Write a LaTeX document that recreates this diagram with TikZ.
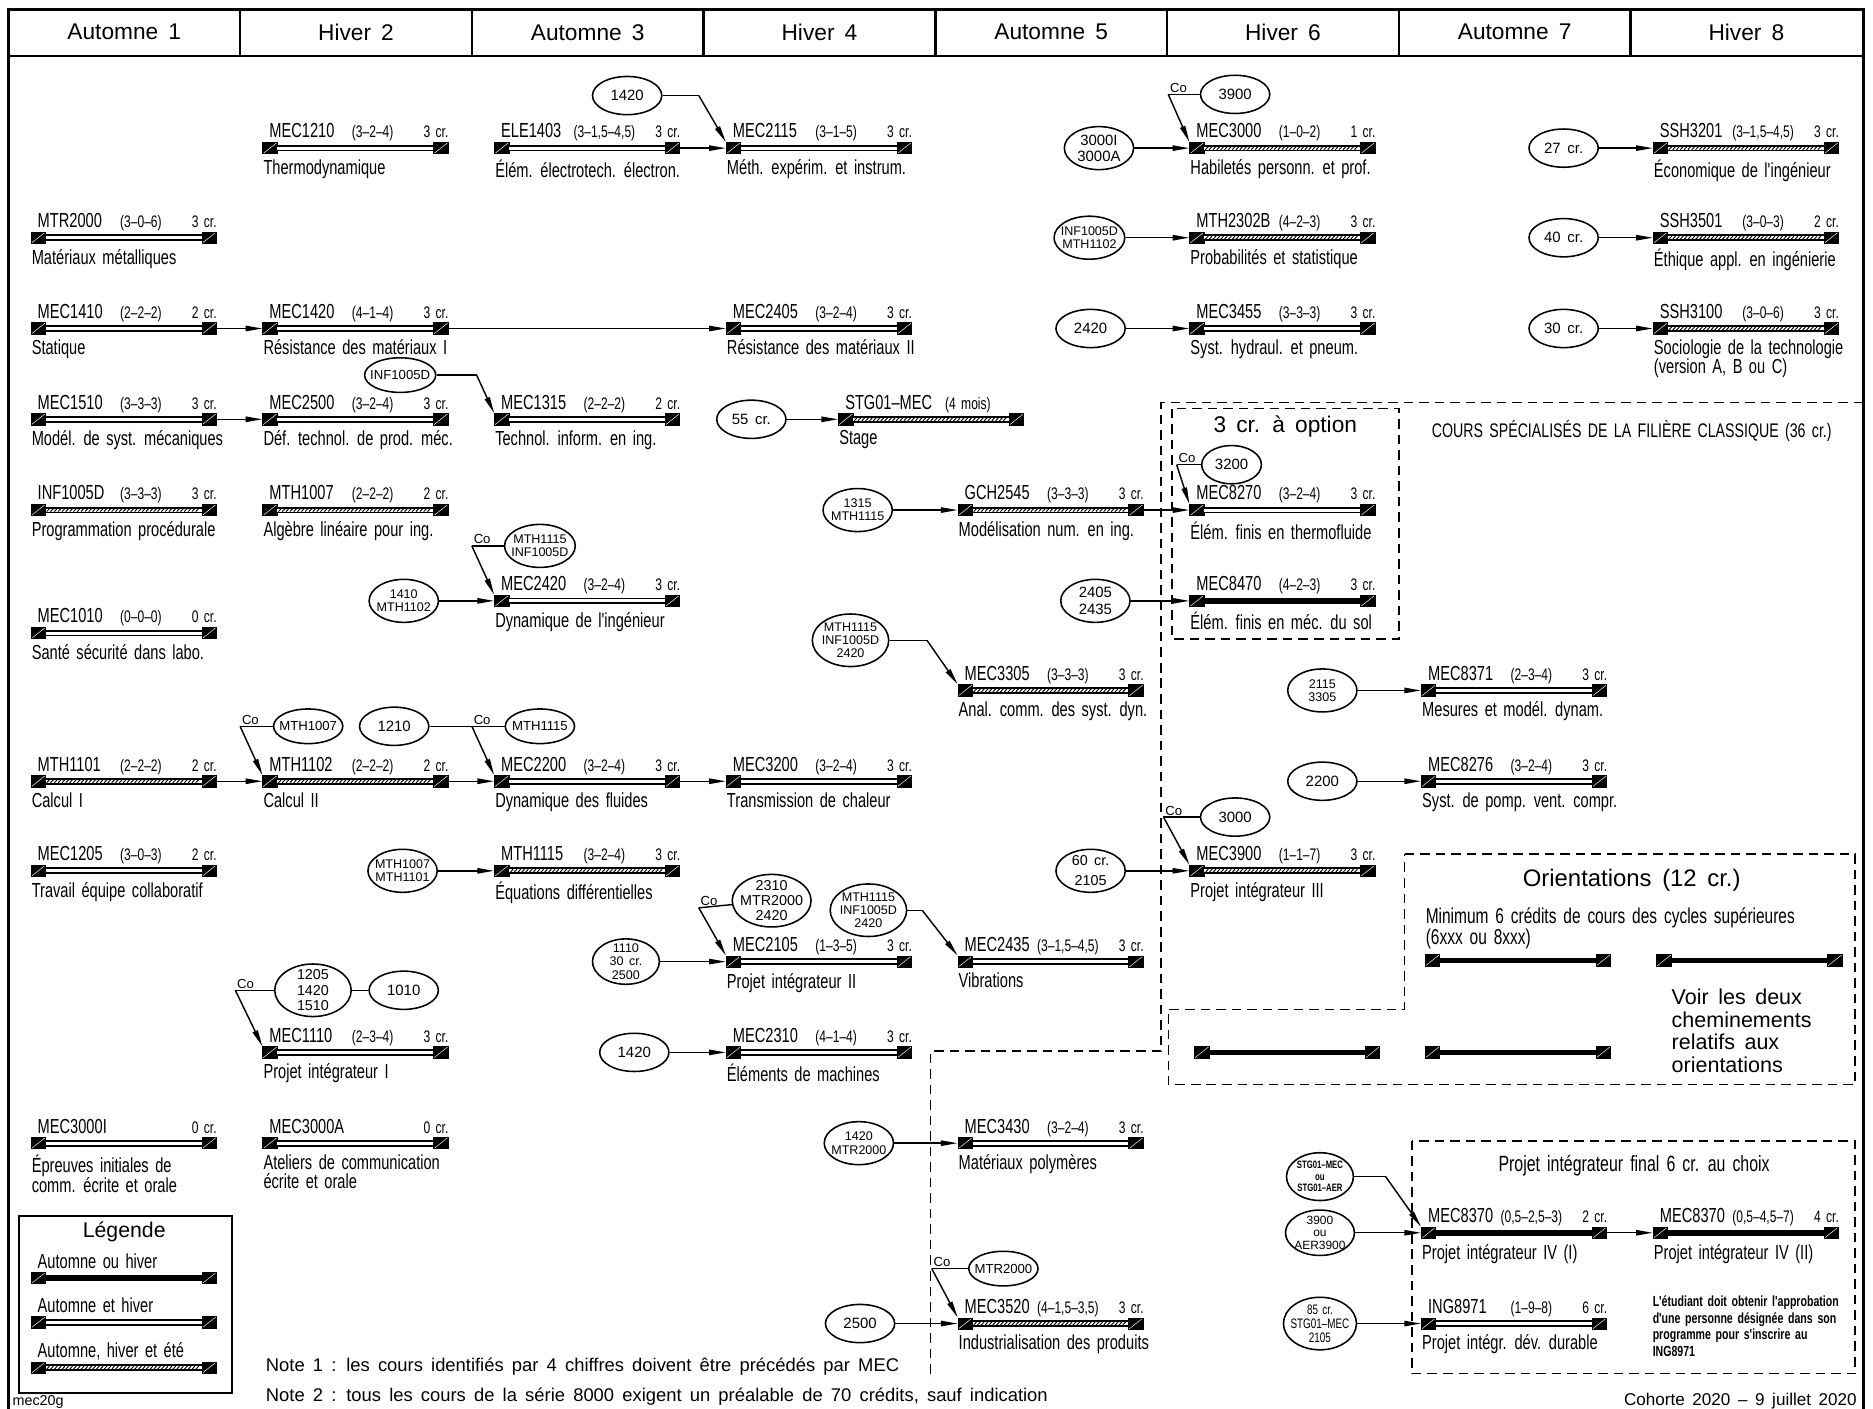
\documentclass[tikz,border=0pt]{standalone}
\usepackage{fontspec}
\setmainfont{Liberation Sans}[WordSpace=1.6]
\newfontfamily\narrowsans{Liberation Sans}[FakeStretch=0.72,WordSpace=1.6]
\usetikzlibrary{arrows.meta,shapes.geometric,decorations.markings}

\newcommand{\codefont}{\narrowsans\fontsize{17}{16}\selectfont}
\newcommand{\smallcodefont}{\narrowsans\fontsize{14}{14}\selectfont}
\newcommand{\prefont}{\fontsize{12.5}{13.5}\selectfont}
\newcommand{\preduofont}{\fontsize{10.5}{11}\selectfont}

% un cours : nom, x, y, barre, sigle, heures, credits, titre
\newcommand{\course}[8]{%
	\node (#1a) at (#2+6,#3)	[sq]	{};
	\node (#1b) at (#2+149,#3)	[sq]	{};
	\draw[#4] (#1a.east) -- (#1b.west);
	\node (#1c) at (#2+5,#3-8.5)	[code]	{#5};
	\node (#1h) at (#2+92,#3-8.5)	[hrs]	{#6};
	\node (#1k) at (#2+156,#3-8.5)	[cred]	{#7};
	\node (#1t) at (#2,#3+9)	[ttl]	{#8};
}

\begin{document}
\begin{tikzpicture}[x=1pt, y=-1pt, line width=1.2pt, >={Triangle[length=14pt, width=4.5pt]},
	sq/.style={draw, fill=black, line width=0.6pt, minimum width=12pt, minimum height=9.5pt, inner sep=0pt,
		path picture={\draw[white, line width=0.4pt] (path picture bounding box.south west) -- (path picture bounding box.north east);}},
	dblbar/.style={line width=1.5pt, double=white, double distance=2.6pt},
	hatchbar/.style={dblbar, postaction={decorate, decoration={markings,
		mark=between positions 2pt and -2pt step 3.2pt with {\draw[line width=0.8pt] (-1.2pt,-1.3pt) -- (1.2pt,1.3pt);}}}},
	thickbar/.style={line width=4.6pt},
	code/.style={anchor=base west, inner sep=0pt, font=\codefont},
	hrs/.style={anchor=base, inner sep=0pt, font=\smallcodefont},
	cred/.style={anchor=base east, inner sep=0pt, font=\smallcodefont},
	ttl/.style={anchor=north west, inner sep=0pt, align=left, font=\codefont},
	pre/.style={ellipse, draw, line width=1.3pt, minimum width=58pt, minimum height=32pt, inner sep=0pt, align=center, font=\prefont},
	pretight/.style={pre, minimum height=29pt, inner xsep=-4pt, font=\fontsize{11}{12}\selectfont},
	pretwo/.style={pre, minimum height=36pt, inner xsep=-3pt, inner ysep=-1pt, font=\preduofont},
	prethree/.style={pre, minimum width=64pt, minimum height=44pt, inner xsep=-3pt, inner ysep=-3pt, font=\preduofont},
	cotxt/.style={anchor=south west, inner sep=1pt, font=\fontsize{11}{11}\selectfont},
	hdr/.style={font=\fontsize{19}{19}\selectfont},
	frame/.style={line width=2pt},
	dashbox/.style={line width=1.2pt, dash pattern=on 8pt off 5pt}]
	\useasboundingbox (0,0) rectangle (1568,1179);

	% cadre et sessions
	\draw[frame] (7,1190) -- (7,8) -- (1560,8) -- (1560,1190);
	\draw[frame] (7,47) -- (1560,47);
	\foreach \i in {1,...,7}
		\draw[frame] (7+194*\i,8) -- (7+194*\i,47);
	\foreach \lbl [count=\i] in {Automne 1, Hiver 2, Automne 3, Hiver 4, Automne 5, Hiver 6, Automne 7, Hiver 8}
		\node (h\i) at (104+194*\i-194,27)	[hdr]	{\lbl};

	% Automne 1
	\course{MTR2000}{26}{199}{dblbar}{MTR2000}{(3–0–6)}{3 cr.}{Matériaux métalliques}
	\course{MEC1410}{26}{275}{dblbar}{MEC1410}{(2–2–2)}{2 cr.}{Statique}
	\course{MEC1510}{26}{351}{dblbar}{MEC1510}{(3–3–3)}{3 cr.}{Modél. de syst. mécaniques}
	\course{INF1005D}{26}{427}{hatchbar}{INF1005D}{(3–3–3)}{3 cr.}{Programmation procédurale}
	\course{MEC1010}{26}{530}{dblbar}{MEC1010}{(0–0–0)}{0 cr.}{Santé sécurité dans labo.}
	\course{MTH1101}{26}{654}{hatchbar}{MTH1101}{(2–2–2)}{2 cr.}{Calcul I}
	\course{MEC1205}{26}{729}{dblbar}{MEC1205}{(3–0–3)}{2 cr.}{Travail équipe collaboratif}
	\course{MEC3000I}{26}{957}{dblbar}{MEC3000I}{}{0 cr.}{Épreuves initiales de\\comm. écrite et orale}

	% Hiver 2
	\course{MEC1210}{220}{124}{dblbar}{MEC1210}{(3–2–4)}{3 cr.}{Thermodynamique}
	\course{MEC1420}{220}{275}{dblbar}{MEC1420}{(4–1–4)}{3 cr.}{Résistance des matériaux I}
	\course{MEC2500}{220}{351}{dblbar}{MEC2500}{(3–2–4)}{3 cr.}{Déf. technol. de prod. méc.}
	\course{MTH1007}{220}{427}{hatchbar}{MTH1007}{(2–2–2)}{2 cr.}{Algèbre linéaire pour ing.}
	\course{MTH1102}{220}{654}{hatchbar}{MTH1102}{(2–2–2)}{2 cr.}{Calcul II}
	\course{MEC1110}{220}{881}{dblbar}{MEC1110}{(2–3–4)}{3 cr.}{Projet intégrateur I}
	\course{MEC3000A}{220}{957}{dblbar}{MEC3000A}{}{0 cr.}{Ateliers de communication\\écrite et orale}

	% Automne 3
	\course{ELE1403}{414}{124}{dblbar}{ELE1403}{(3–1,5–4,5)}{3 cr.}{Élém. électrotech. électron.}
	\course{MEC1315}{414}{351}{dblbar}{MEC1315}{(2–2–2)}{2 cr.}{Technol. inform. en ing.}
	\course{MEC2420}{414}{503}{dblbar}{MEC2420}{(3–2–4)}{3 cr.}{Dynamique de l'ingénieur}
	\course{MEC2200}{414}{654}{dblbar}{MEC2200}{(3–2–4)}{3 cr.}{Dynamique des fluides}
	\course{MTH1115}{414}{729}{hatchbar}{MTH1115}{(3–2–4)}{3 cr.}{Équations différentielles}

	% Hiver 4
	\course{MEC2115}{608}{124}{dblbar}{MEC2115}{(3–1–5)}{3 cr.}{Méth. expérim. et instrum.}
	\course{MEC2405}{608}{275}{dblbar}{MEC2405}{(3–2–4)}{3 cr.}{Résistance des matériaux II}
	\course{STG01}{702}{351}{hatchbar}{STG01–MEC\ \ {\smallcodefont(4 mois)}}{}{}{Stage}
	\course{MEC3200}{608}{654}{dblbar}{MEC3200}{(3–2–4)}{3 cr.}{Transmission de chaleur}
	\course{MEC2105}{608}{805}{dblbar}{MEC2105}{(1–3–5)}{3 cr.}{Projet intégrateur II}
	\course{MEC2310}{608}{881}{dblbar}{MEC2310}{(4–1–4)}{3 cr.}{Éléments de machines}

	% Automne 5
	\course{GCH2545}{802}{427}{hatchbar}{GCH2545}{(3–3–3)}{3 cr.}{Modélisation num. en ing.}
	\course{MEC3305}{802}{578}{hatchbar}{MEC3305}{(3–3–3)}{3 cr.}{Anal. comm. des syst. dyn.}
	\course{MEC2435}{802}{805}{dblbar}{MEC2435}{(3–1,5–4,5)}{3 cr.}{Vibrations}
	\course{MEC3430}{802}{957}{dblbar}{MEC3430}{(3–2–4)}{3 cr.}{Matériaux polymères}
	\course{MEC3520}{802}{1108}{hatchbar}{MEC3520}{(4–1,5–3,5)}{3 cr.}{Industrialisation des produits}

	% Hiver 6
	\course{MEC3000}{996}{124}{hatchbar}{MEC3000}{(1–0–2)}{1 cr.}{Habiletés personn. et prof.}
	\course{MTH2302B}{996}{199}{hatchbar}{MTH2302B}{(4–2–3)}{3 cr.}{Probabilités et statistique}
	\course{MEC3455}{996}{275}{dblbar}{MEC3455}{(3–3–3)}{3 cr.}{Syst. hydraul. et pneum.}
	\course{MEC8270}{996}{427}{dblbar}{MEC8270}{(3–2–4)}{3 cr.}{Élém. finis en thermofluide}
	\course{MEC8470}{996}{503}{thickbar}{MEC8470}{(4–2–3)}{3 cr.}{Élém. finis en méc. du sol}
	\course{MEC3900}{996}{729}{hatchbar}{MEC3900}{(1–1–7)}{3 cr.}{Projet intégrateur III}

	% Automne 7
	\course{MEC8371}{1190}{578}{dblbar}{MEC8371}{(2–3–4)}{3 cr.}{Mesures et modél. dynam.}
	\course{MEC8276}{1190}{654}{dblbar}{MEC8276}{(3–2–4)}{3 cr.}{Syst. de pomp. vent. compr.}
	\course{MEC8370I}{1190}{1032}{thickbar}{MEC8370}{(0,5–2,5–3)}{2 cr.}{Projet intégrateur IV (I)}
	\course{ING8971}{1190}{1108}{dblbar}{ING8971}{(1–9–8)}{6 cr.}{Projet intégr. dév. durable}

	% Hiver 8
	\course{SSH3201}{1384}{124}{hatchbar}{SSH3201}{(3–1,5–4,5)}{3 cr.}{Économique de l'ingénieur}
	\course{SSH3501}{1384}{199}{hatchbar}{SSH3501}{(3–0–3)}{2 cr.}{Éthique appl. en ingénierie}
	\course{SSH3100}{1384}{275}{hatchbar}{SSH3100}{(3–0–6)}{3 cr.}{Sociologie de la technologie\\(version A, B ou C)}
	\course{MEC8370II}{1384}{1032}{thickbar}{MEC8370}{(0,5–4,5–7)}{4 cr.}{Projet intégrateur IV (II)}

	% suites de cours
	\draw[->] (MEC1410b) -- (MEC1420a);
	\draw[->] (MEC1420b) -- (MEC2405a);
	\draw[->] (MEC1510b) -- (MEC2500a);
	\draw[->] (ELE1403b) -- (MEC2115a);
	\draw[->] (MTH1101b) -- (MTH1102a);
	\draw[->] (MTH1102b) -- (MEC2200a);
	\draw[->] (MEC2200b) -- (MEC3200a);
	\draw[->] (GCH2545b) -- (MEC8270a);
	\draw[->] (MEC8370Ib) -- (MEC8370IIa);

	% prealables
	\node (p1420a) at (525,80)	[pre]	{1420};
	\coordinate (k2115) at (585,80);
	\draw (p1420a) -- (k2115);
	\draw[->] (k2115) -- (MEC2115a.north west);

	\node (p3000IA) at (920,124)	[pretwo, font=\prefont]	{3000I\\3000A};
	\draw[->] (p3000IA) -- (MEC3000a);
	\coordinate (co3000) at (978,79);
	\node (co3000t) at (co3000)	[cotxt]	{Co};
	\node (p3900) at (1034,79)	[pre]	{3900};
	\draw (p3900) -- (co3000);
	\draw[->] (co3000) -- (MEC3000a.north west);

	\node (p2302) at (912,199)	[pretwo]	{INF1005D\\MTH1102};
	\draw[->] (p2302) -- (MTH2302Ba);
	\node (p2420a) at (913,275)	[pre]	{2420};
	\draw[->] (p2420a) -- (MEC3455a);

	\node (p27) at (1309,124)	[pre]	{27 cr.};
	\draw[->] (p27) -- (SSH3201a);
	\node (p40) at (1309,199)	[pre]	{40 cr.};
	\draw[->] (p40) -- (SSH3501a);
	\node (p30) at (1309,275)	[pre]	{30 cr.};
	\draw[->] (p30) -- (SSH3100a);

	\node (pINF) at (335,314)	[pretight]	{INF1005D};
	\coordinate (k1315) at (399,314);
	\draw (pINF) -- (k1315);
	\draw[->] (k1315) -- (MEC1315a.north west);

	\node (p55) at (629,351)	[pre]	{55 cr.};
	\draw[->] (p55) -- (STG01a);

	\node (p1315) at (718,427)	[pretwo]	{1315\\MTH1115};
	\draw[->] (p1315) -- (GCH2545a);

	\coordinate (co2420) at (395,457);
	\node (co2420t) at (co2420)	[cotxt]	{Co};
	\node (pMTH1115b) at (452,457)	[pretwo]	{MTH1115\\INF1005D};
	\draw (pMTH1115b) -- (co2420);
	\draw[->] (co2420) -- (MEC2420a.north west);
	\node (p1410) at (338,503)	[pretwo]	{1410\\MTH1102};
	\draw[->] (p1410) -- (MEC2420a);

	\coordinate (co8270) at (985,389);
	\node (co8270t) at (co8270)	[cotxt]	{Co};
	\node (p3200) at (1031,389)	[pre, minimum width=50pt]	{3200};
	\draw (p3200) -- (co8270);
	\draw[->] (co8270) -- (MEC8270a.north west);
	\node (p2405) at (917,503)	[pretwo, font=\prefont]	{2405\\2435};
	\draw[->] (p2405) -- (MEC8470a);

	\node (p3305) at (712,536)	[prethree]	{MTH1115\\INF1005D\\2420};
	\coordinate (k3305) at (776,536);
	\draw (p3305) -- (k3305);
	\draw[->] (k3305) -- (MEC3305a.north west);

	\node (p2115) at (1107,578)	[pretwo]	{2115\\3305};
	\draw[->] (p2115) -- (MEC8371a);
	\node (p2200) at (1107,654)	[pre]	{2200};
	\draw[->] (p2200) -- (MEC8276a);

	\coordinate (co1102) at (201,608);
	\node (co1102t) at (co1102)	[cotxt]	{Co};
	\node (pMTH1007) at (258,608)	[pretight]	{MTH1007};
	\draw (pMTH1007) -- (co1102);
	\draw[->] (co1102) -- (MTH1102a.north west);

	\coordinate (co2200) at (395,608);
	\node (co2200t) at (co2200)	[cotxt]	{Co};
	\node (p1210) at (330,608)	[pre]	{1210};
	\node (pMTH1115a) at (452,608)	[pretight]	{MTH1115};
	\draw (p1210) -- (co2200);
	\draw (pMTH1115a) -- (co2200);
	\draw[->] (co2200) -- (MEC2200a.north west);

	\node (p1101) at (337,729)	[pretwo]	{MTH1007\\MTH1101};
	\draw[->] (p1101) -- (MTH1115a);

	\coordinate (co3900) at (974,684);
	\node (co3900t) at (co3900)	[cotxt]	{Co};
	\node (p3000) at (1034,684)	[pre]	{3000};
	\draw (p3000) -- (co3900);
	\draw[->] (co3900) -- (MEC3900a.north west);
	\node (p60) at (913,729)	[pretwo, font=\fontsize{12}{17}\selectfont]	{60 cr.\\2105};
	\draw[->] (p60) -- (MEC3900a);

	\coordinate (co2105) at (585,760);
	\node (co2105t) at (co2105)	[cotxt]	{Co};
	\node (p2310) at (646,754)	[prethree, font=\fontsize{12}{12.5}\selectfont]	{2310\\MTR2000\\2420};
	\draw (p2310) -- (co2105);
	\draw[->] (co2105) -- (MEC2105a.north west);
	\node (p1110) at (524,805)	[prethree, minimum width=56pt, minimum height=38pt]	{1110\\30 cr.\\2500};
	\draw[->] (p1110) -- (MEC2105a);

	\node (p2435) at (727,762)	[prethree]	{MTH1115\\INF1005D\\2420};
	\coordinate (k2435) at (772,762);
	\draw (p2435) -- (k2435);
	\draw[->] (k2435) -- (MEC2435a.north west);

	\coordinate (co1110) at (197,829);
	\node (co1110t) at (co1110)	[cotxt]	{Co};
	\node (p1205) at (262,829)	[prethree, font=\fontsize{12}{13}\selectfont]	{1205\\1420\\1510};
	\node (p1010) at (338,829)	[pre]	{1010};
	\draw (p1010) -- (p1205);
	\draw (p1205) -- (co1110);
	\draw[->] (co1110) -- (MEC1110a.north west);

	\node (p1420b) at (531,881)	[pre]	{1420};
	\draw[->] (p1420b) -- (MEC2310a);
	\node (p3430) at (719,957)	[pretwo]	{1420\\MTR2000};
	\draw[->] (p3430) -- (MEC3430a);

	\node (p2500) at (720,1108)	[pre]	{2500};
	\draw[->] (p2500) -- (MEC3520a);
	\coordinate (co3520) at (780,1062);
	\node (co3520t) at (co3520)	[cotxt]	{Co};
	\node (pMTR2000) at (840,1062)	[pretight]	{MTR2000};
	\draw (pMTR2000) -- (co3520);
	\draw[->] (co3520) -- (MEC3520a.north west);

	\node (pSTG) at (1105,985)	[prethree, minimum width=56pt, minimum height=40pt, font=\narrowsans\bfseries\fontsize{9}{9.5}\selectfont]	{STG01–MEC\\ou\\STG01–AER};
	\coordinate (k8370) at (1160,985);
	\draw (pSTG) -- (k8370);
	\draw[->] (k8370) -- (MEC8370Ia.north west);
	\node (p3900b) at (1105,1032)	[prethree, minimum width=56pt, minimum height=38pt, inner xsep=-1pt, font=\fontsize{10}{10.5}\selectfont]	{3900\\ou\\AER3900};
	\draw[->] (p3900b) -- (MEC8370Ia);
	\node (p85) at (1105,1108)	[prethree, minimum width=56pt, font=\narrowsans\fontsize{11.5}{11.5}\selectfont]	{85 cr.\\STG01–MEC\\2105};
	\draw[->] (p85) -- (ING8971a);

	% cours specialises
	\draw[dashbox] (1560,337) -- (972,337) -- (972,880) -- (779,880) -- (779,1155);
	\draw[dashbox] (981,342) rectangle (1171,535);
	\node (opt) at (1076,357)	[font=\fontsize{19}{19}\selectfont]	{3 cr. à option};
	\node (spec) at (1366,361)	[font=\narrowsans\fontsize{16.5}{16.5}\selectfont]	{COURS SPÉCIALISÉS DE LA FILIÈRE CLASSIQUE (36 cr.)};

	% orientations
	\draw[dashbox] (1176,715) -- (1553,715) -- (1553,908) -- (978,908) -- (978,845) -- (1176,845) -- cycle;
	\node (ori) at (1366,737)	[font=\fontsize{20}{20}\selectfont]	{Orientations (12 cr.)};
	\node (orimin) at (1193,759)	[anchor=north west, inner sep=0pt, align=left, font=\narrowsans\fontsize{18}{15}\selectfont]	{Minimum 6 crédits de cours des cycles supérieures\\(6xxx ou 8xxx)};
	\course{orA}{1193}{804}{thickbar}{}{}{}{}
	\course{orB}{1387}{804}{thickbar}{}{}{}{}
	\course{orC}{1000}{881}{thickbar}{}{}{}{}
	\course{orD}{1193}{881}{thickbar}{}{}{}{}
	\node (voir) at (1458,863)	[align=left, font=\fontsize{18}{19}\selectfont]	{Voir les deux\\cheminements\\relatifs aux\\orientations};

	% projet final
	\draw[dashbox] (1182,955) rectangle (1553,1150);
	\node (final) at (1368,976)	[font=\narrowsans\fontsize{18.5}{18.5}\selectfont]	{Projet intégrateur final 6 cr. au choix};
	\node (appro) at (1383,1084)	[anchor=north west, inner sep=0pt, align=left, font=\narrowsans\bfseries\fontsize{12.3}{14}\selectfont]	{L'étudiant doit obtenir l'approbation\\d'une personne désignée dans son\\programme pour s'inscrire au\\ING8971};

	% legende
	\draw[line width=1.5pt] (16,1018) rectangle (194,1166);
	\node (leg) at (104,1031)	[font=\fontsize{17.8}{17.8}\selectfont]	{Légende};
	\course{legA}{26}{1070}{thickbar}{Automne ou hiver}{}{}{}
	\course{legB}{26}{1107}{dblbar}{Automne et hiver}{}{}{}
	\course{legC}{26}{1145}{hatchbar}{Automne, hiver et été}{}{}{}

	% notes
	\node (n1) at (222,1144)	[anchor=west, inner sep=0pt, font=\fontsize{15.4}{15.4}\selectfont]	{Note 1 : les cours identifiés par 4 chiffres doivent être précédés par MEC};
	\node (n2) at (222,1169)	[anchor=west, inner sep=0pt, font=\fontsize{15.4}{15.4}\selectfont]	{Note 2 : tous les cours de la série 8000 exigent un préalable de 70 crédits, sauf indication};
	\node (fich) at (10,1174)	[anchor=west, inner sep=0pt, font=\fontsize{12}{12}\selectfont]	{mec20g};
	\node (coh) at (1555,1173)	[anchor=east, inner sep=0pt, font=\fontsize{14.3}{14.3}\selectfont]	{Cohorte 2020 – 9 juillet 2020};
\end{tikzpicture}
\end{document}
